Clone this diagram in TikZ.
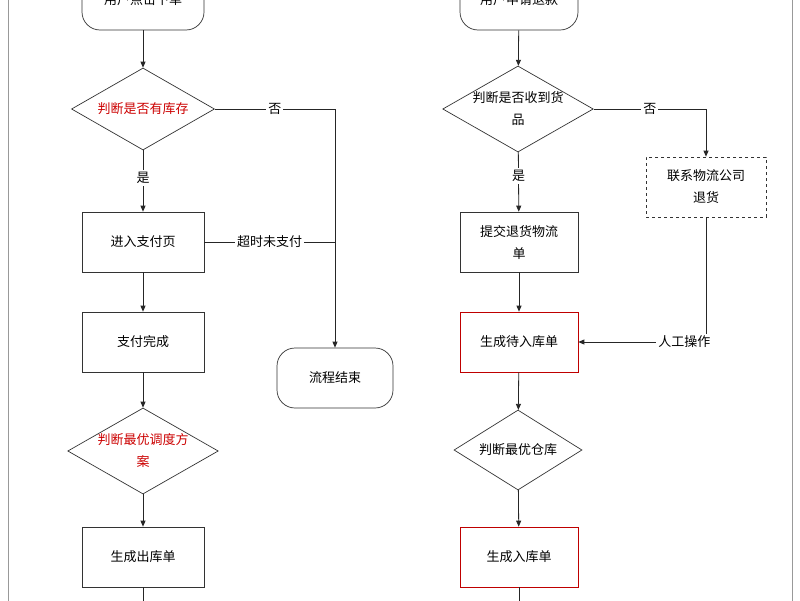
\documentclass[tikz,border=0pt]{standalone}
\usepackage{fontspec}
\setmainfont{Noto Sans CJK SC}
\usetikzlibrary{shapes.geometric,arrows.meta}
\begin{document}
\begin{tikzpicture}[x=1pt,y=-1pt,
  box/.style={draw=black!80,line width=0.7pt,minimum width=122pt,minimum height=60pt,align=center,font=\fontsize{13}{22}\selectfont,fill=white},
  rbox/.style={box,draw=red!75!black},
  dbox/.style={box,dashed,minimum width=120pt},
  term/.style={box,rounded corners=18pt},
  dia/.style={draw=black!80,line width=0.7pt,diamond,aspect=1.75,minimum width=143pt,minimum height=82pt,inner sep=0pt,align=center,font=\fontsize{13}{22}\selectfont,fill=white},
  lab/.style={fill=white,font=\fontsize{13}{16}\selectfont,inner sep=2pt},
  arr/.style={draw=black!85,line width=0.8pt,-{Triangle[length=6pt,width=5pt]}},
  ln/.style={draw=black!85,line width=0.8pt}]
\useasboundingbox (0,0) rectangle (800,600);
\fill[white] (0,0) rectangle (800,600);
\draw[black!40] (8,-1) -- (8,601) (792,-1) -- (792,601);
% left column
\node[term,minimum height=70pt] (s1) at (143,-5) {\raisebox{-20pt}{用户点击下单}};
\node[dia] (d1) at (143,109) {\textcolor{red!80!black}{判断是否有库存}};
\node[box] (b1) at (143,242) {进入支付页};
\node[box] (b2) at (143,342) {支付完成};
\node[dia] (d2) at (143,451) {\textcolor{red!80!black}{判断最优调度方}\\\textcolor{red!80!black}{案}};
\node[box] (b3) at (143,557) {生成出库单};
\node[term,minimum width=116pt] (e1) at (335,378) {流程结束};
\coordinate (c1) at (335,109);
\coordinate (c2) at (335,242);
\coordinate (o1) at (143,605);
\draw[arr] (s1) -- (d1);
\draw[arr] (d1) -- node[lab,pos=0.45]{是} (b1);
\draw[arr] (b1) -- (b2);
\draw[arr] (b2) -- (d2);
\draw[arr] (d2) -- (b3);
\draw[ln] (b3) -- (o1);
\draw[arr] (d1.east) -- node[lab,pos=0.5]{否} (c1) -- (e1.north);
\draw[ln] (b1.east) -- node[lab,pos=0.5]{超时未支付} (c2);
% right column
\node[term,minimum height=70pt,minimum width=118pt] (s2) at (519,-5) {\raisebox{-20pt}{用户申请退款}};
\node[dia] (d3) at (518,109) {判断是否收到货\\品};
\node[box,minimum width=118pt] (b4) at (519,242) {提交退货物流\\单};
\node[rbox,minimum width=118pt] (b5) at (519,342) {生成待入库单};
\node[dia,minimum width=128pt,minimum height=80pt] (d4) at (518,450) {判断最优仓库};
\node[rbox,minimum width=118pt] (b6) at (519,557) {生成入库单};
\node[dbox] (b7) at (706,187) {联系物流公司\\退货};
\coordinate (c3) at (706,109);
\coordinate (c4) at (706,342);
\coordinate (o2) at (519,605);
\draw[arr] (s2) -- (d3);
\draw[arr] (d3) -- node[lab,pos=0.4]{是} (b4);
\draw[arr] (b4) -- (b5);
\draw[arr] (b5) -- (d4);
\draw[arr] (d4) -- (b6);
\draw[ln] (b6) -- (o2);
\draw[arr] (d3.east) -- node[lab,pos=0.5]{否} (c3) -- (b7.north);
\draw[arr] (b7.south) -- (c4) -- node[lab,pos=0.17]{人工操作} (b5.east);
\end{tikzpicture}
\end{document}
